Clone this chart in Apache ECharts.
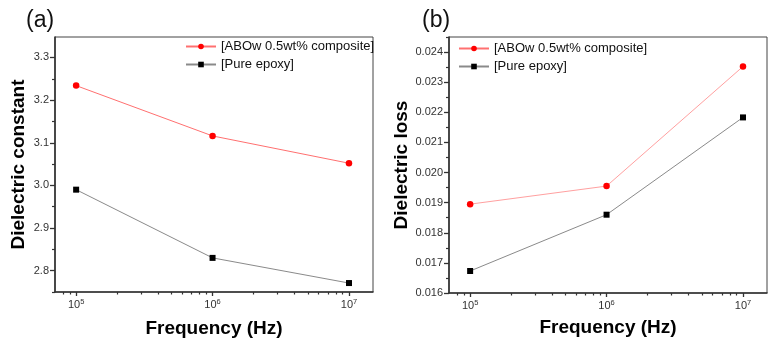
<!DOCTYPE html>
<html>
<head>
<meta charset="utf-8">
<script src="https://cdn.jsdelivr.net/npm/echarts@6/dist/echarts.min.js"></script>
<style>html,body{margin:0;padding:0;background:#fff}#c{width:778px;height:347px}</style>
</head>
<body>
<div id="c"></div>
<script>
// ---- data ----
const freq = [1e5, 1e6, 1e7];
const constComposite = [3.234, 3.116, 3.052];
const constEpoxy = [2.990, 2.830, 2.771];
const lossComposite = [0.01895, 0.01955, 0.02352];
const lossEpoxy = [0.01673, 0.01860, 0.02183];
const seriesNames = ['[ABOw 0.5wt% composite]', '[Pure epoxy]'];
const panelLabels = ['(a)', '(b)'];
const xTitle = 'Frequency (Hz)';
const yTitles = ['Dielectric constant', 'Dielectric loss'];
const xMajorTicks = [1e5, 1e6, 1e7];
const xMinorTicks = [8e4, 9e4, 2e5, 3e5, 4e5, 5e5, 6e5, 7e5, 8e5, 9e5, 2e6, 3e6, 4e6, 5e6, 6e6, 7e6, 8e6, 9e6];
const constMajorTicks = [2.8, 2.9, 3.0, 3.1, 3.2, 3.3];
const constMinorTicks = [2.75, 2.85, 2.95, 3.05, 3.15, 3.25, 3.35];
const lossMajorTicks = [0.016, 0.017, 0.018, 0.019, 0.020, 0.021, 0.022, 0.023, 0.024];
const lossMinorTicks = [0.0165, 0.0175, 0.0185, 0.0195, 0.0205, 0.0215, 0.0225, 0.0235, 0.0245];

const FONT = '"Liberation Sans", Arial, sans-serif';
const pair = (xs, ys) => xs.map((x, i) => [x, ys[i]]);
const chart = echarts.init(document.getElementById('c'), null, {renderer: 'canvas'});

function xAxes(gridIndex, nameGap) {
  return [{
    type: 'log', gridIndex, min: 70000, max: 15000000, logBase: 10,
    name: xTitle, nameLocation: 'middle', nameGap,
    nameTextStyle: {fontFamily: FONT, fontSize: 19, fontWeight: 'bold', color: '#000'},
    axisLine: {show: true, onZero: false, lineStyle: {color: '#333', width: 1.6}},
    axisTick: {show: true, inside: false, length: 4, customValues: xMajorTicks, lineStyle: {color: '#333', width: 1.3}},
    axisLabel: {show: true, margin: 6, customValues: xMajorTicks, fontFamily: FONT,
      formatter: v => '{b|10}{s|' + Math.round(Math.log10(v)) + '}',
      rich: {b: {fontSize: 11, color: '#333', fontFamily: FONT}, s: {fontSize: 7.5, color: '#333', fontFamily: FONT, padding: [0, 0, 6, 0]}}},
    splitLine: {show: false}, minorTick: {show: false}, minorSplitLine: {show: false}
  }, {
    type: 'log', gridIndex, min: 70000, max: 15000000, logBase: 10, position: 'bottom',
    axisLine: {show: false},
    axisTick: {show: true, inside: false, length: 2.5, customValues: xMinorTicks, lineStyle: {color: '#333', width: 1.2}},
    axisLabel: {show: false}, splitLine: {show: false}
  }];
}
function yAxes(gridIndex, min, max, major, minor, digits, name, nameGap) {
  return [{
    type: 'value', gridIndex, min, max, name, nameLocation: 'middle', nameGap,
    nameTextStyle: {fontFamily: FONT, fontSize: 19, fontWeight: 'bold', color: '#000'},
    axisLine: {show: true, onZero: false, lineStyle: {color: '#333', width: 1.6}},
    axisTick: {show: true, inside: false, length: 5, customValues: major, lineStyle: {color: '#333', width: 1.3}},
    axisLabel: {show: true, margin: 6, customValues: major, fontFamily: FONT, fontSize: 11, color: '#333',
      formatter: v => v.toFixed(digits)},
    splitLine: {show: false}
  }, {
    type: 'value', gridIndex, min, max, position: 'left',
    axisLine: {show: false},
    axisTick: {show: true, inside: false, length: 3, customValues: minor, lineStyle: {color: '#333', width: 1.2}},
    axisLabel: {show: false}, splitLine: {show: false}
  }];
}
function lineSeries(name, data, xi, yi, color, lineColor, symbol, size) {
  return {
    type: 'line', name, data, xAxisIndex: xi, yAxisIndex: yi,
    symbol, symbolSize: size, showSymbol: true,
    itemStyle: {color, borderWidth: 0},
    lineStyle: {color: lineColor, width: 1},
    emphasis: {disabled: true}, animation: false, z: 5
  };
}
function legendAt(left, top) {
  return {orient: 'vertical', left, top, itemWidth: 30, itemHeight: 7, itemGap: 5,
    textStyle: {fontFamily: FONT, fontSize: 13, color: '#111'}, data: seriesNames.slice(), selectedMode: false};
}

const option = {
  backgroundColor: '#fff',
  animation: false,
  title: [
    {text: panelLabels[0], left: 21, top: 4, textStyle: {fontFamily: FONT, fontSize: 23, fontWeight: 'normal', color: '#111'}},
    {text: panelLabels[1], left: 417, top: 4, textStyle: {fontFamily: FONT, fontSize: 23, fontWeight: 'normal', color: '#111'}}
  ],
  grid: [
    {left: 55, top: 37, width: 318, height: 255, show: true, borderColor: '#444', borderWidth: 1, containLabel: false},
    {left: 449, top: 37, width: 318, height: 256, show: true, borderColor: '#444', borderWidth: 1, containLabel: false}
  ],
  legend: [legendAt(180, 35), legendAt(453, 37)],
  xAxis: [...xAxes(0, 27), ...xAxes(1, 25)],
  yAxis: [
    ...yAxes(0, 2.75, 3.348, constMajorTicks, constMinorTicks, 1, yTitles[0], 27),
    ...yAxes(1, 0.016, 0.0245, lossMajorTicks, lossMinorTicks, 3, yTitles[1], 37)
  ],
  series: [
    lineSeries(seriesNames[0], pair(freq, constComposite), 0, 0, '#ff0000', '#ff7070', 'circle', 6.5),
    lineSeries(seriesNames[1], pair(freq, constEpoxy), 0, 0, '#000', '#8a8a8a', 'rect', 6),
    lineSeries(seriesNames[0], pair(freq, lossComposite), 2, 2, '#ff0000', '#ffa0a0', 'circle', 6.5),
    lineSeries(seriesNames[1], pair(freq, lossEpoxy), 2, 2, '#000', '#8a8a8a', 'rect', 6)
  ]
};
chart.setOption(option);
</script>
</body>
</html>
